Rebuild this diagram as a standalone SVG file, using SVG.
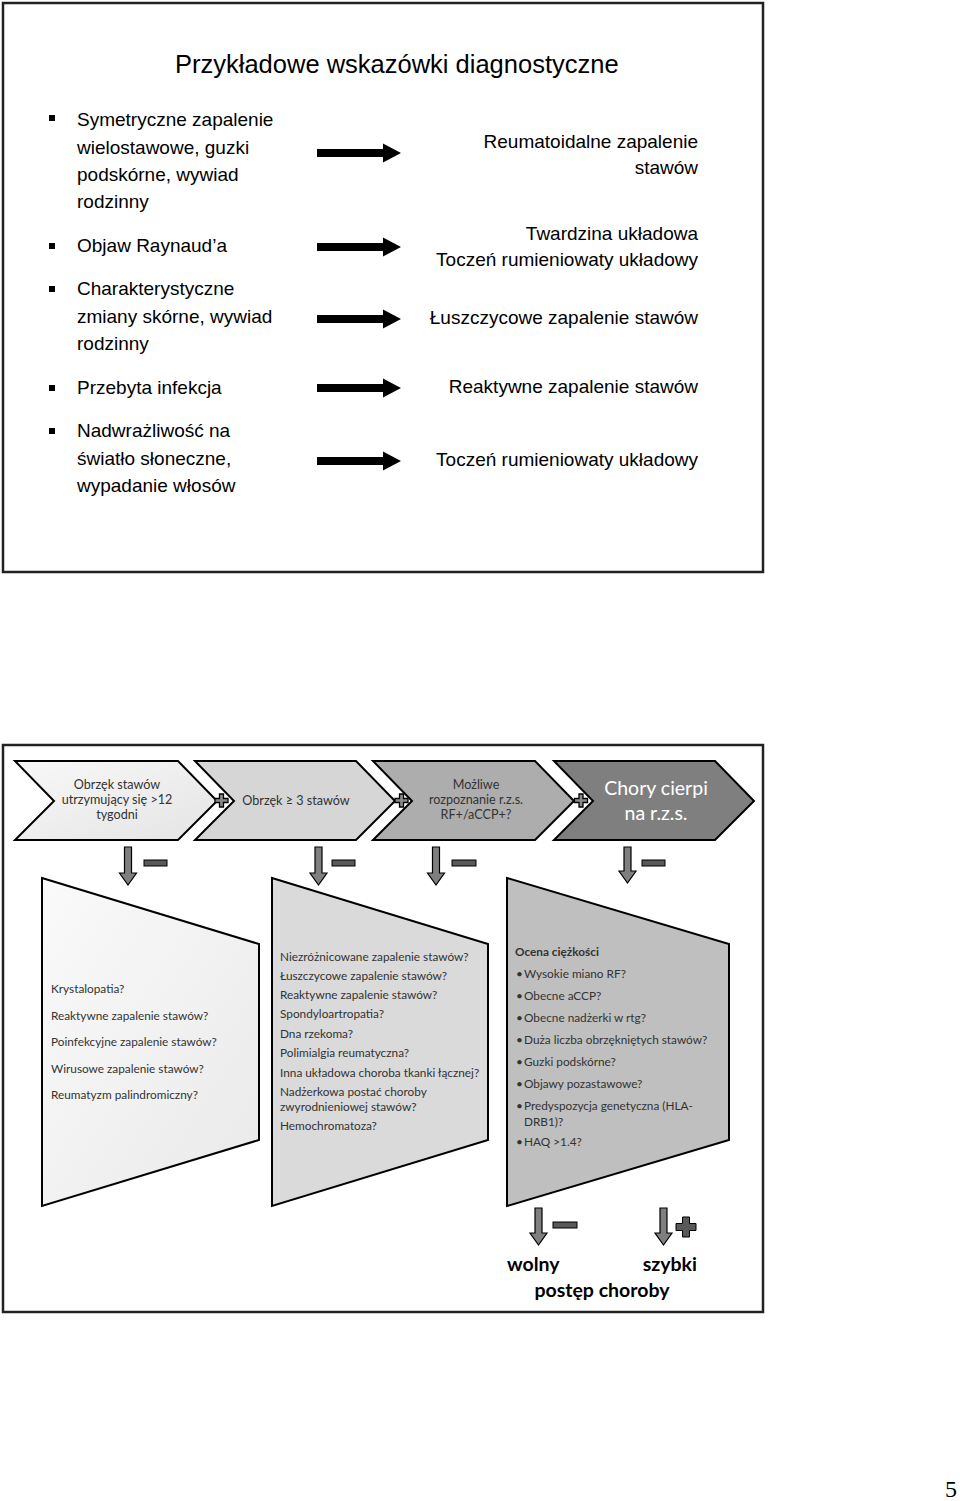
<svg xmlns="http://www.w3.org/2000/svg" width="960" height="1501" viewBox="0 0 960 1501">
<style>
.frame{fill:#fff;stroke:#222;stroke-width:2.5}
.t1{font-family:"Liberation Sans",Arial,sans-serif;font-size:19px;fill:#000}
.title{font-family:"Liberation Sans",Arial,sans-serif;font-size:25.5px;fill:#000}
.bul{fill:#000}
.blk{fill:#000}
.chev{stroke:#000;stroke-width:2}
.ct{font-family:Lato,"Open Sans",sans-serif;font-size:12.6px;fill:#333;text-anchor:middle}
.ct4{font-family:Lato,"Open Sans",sans-serif;font-size:19.5px;fill:#fff;text-anchor:middle}
.pl{fill:#8a8a8a;stroke:#000;stroke-width:1.3}
.ga{fill:#7f7f7f;stroke:#000;stroke-width:1.2}
.mi{fill:#595959;stroke:#000;stroke-width:1}
.pan{stroke:#000;stroke-width:2}
.pt{font-family:Lato,"Open Sans",sans-serif;font-size:11.8px;fill:#333}
.pb{font-family:Lato,"Open Sans",sans-serif;font-size:11.8px;fill:#333;font-weight:bold}
.bt{font-family:Lato,"Open Sans",sans-serif;font-size:19.5px;fill:#000;font-weight:bold}
.pn{font-family:"Liberation Serif","Times New Roman",serif;font-size:24px;fill:#000}
</style>
<defs>
<linearGradient id="g1" x1="0" y1="0" x2="1" y2="1"><stop offset="0" stop-color="#f8f8f8"/><stop offset="1" stop-color="#e4e4e4"/></linearGradient>
<linearGradient id="gp1" x1="0" y1="0" x2="1" y2="1"><stop offset="0" stop-color="#fafafa"/><stop offset="1" stop-color="#e9e9e9"/></linearGradient>
</defs>
<rect width="960" height="1501" fill="#fff"/>

<!-- Top slide -->
<g id="slide1">
<rect class="frame" x="3" y="3" width="760" height="569"/>
<text class="title" x="175" y="73">Przykładowe wskazówki diagnostyczne</text>
</g>

<g id="left-list">
<rect class="bul" x="49" y="115" width="6" height="6"/>
<rect class="bul" x="49" y="243" width="6" height="6"/>
<rect class="bul" x="49" y="286" width="6" height="6"/>
<rect class="bul" x="49" y="385" width="6" height="6"/>
<rect class="bul" x="49" y="428" width="6" height="6"/>
<text class="t1" x="77" y="126">Symetryczne zapalenie</text>
<text class="t1" x="77" y="154">wielostawowe, guzki</text>
<text class="t1" x="77" y="181">podskórne, wywiad</text>
<text class="t1" x="77" y="208">rodzinny</text>
<text class="t1" x="77" y="252">Objaw Raynaud’a</text>
<text class="t1" x="77" y="295">Charakterystyczne</text>
<text class="t1" x="77" y="323">zmiany skórne, wywiad</text>
<text class="t1" x="77" y="350">rodzinny</text>
<text class="t1" x="77" y="394">Przebyta infekcja</text>
<text class="t1" x="77" y="437">Nadwrażliwość na</text>
<text class="t1" x="77" y="465">światło słoneczne,</text>
<text class="t1" x="77" y="492">wypadanie włosów</text>
</g>

<g id="top-arrows">
<path class="blk" d="M317,149 H383 V143.5 L401,153 L383,162.5 V157 H317 Z"/>
<path class="blk" d="M317,243 H383 V237.5 L401,247 L383,256.5 V251 H317 Z"/>
<path class="blk" d="M317,315 H383 V309.5 L401,319 L383,328.5 V323 H317 Z"/>
<path class="blk" d="M317,384 H383 V378.5 L401,388 L383,397.5 V392 H317 Z"/>
<path class="blk" d="M317,457 H383 V451.5 L401,461 L383,470.5 V465 H317 Z"/>
</g>

<g id="right-list">
<text class="t1" x="698" y="148" text-anchor="end">Reumatoidalne zapalenie</text>
<text class="t1" x="698" y="174" text-anchor="end">stawów</text>
<text class="t1" x="698" y="240" text-anchor="end">Twardzina układowa</text>
<text class="t1" x="698" y="266" text-anchor="end">Toczeń rumieniowaty układowy</text>
<text class="t1" x="698" y="324" text-anchor="end">Łuszczycowe zapalenie stawów</text>
<text class="t1" x="698" y="393" text-anchor="end">Reaktywne zapalenie stawów</text>
<text class="t1" x="698" y="466" text-anchor="end">Toczeń rumieniowaty układowy</text>
</g>

<!-- Bottom slide -->
<g id="slide2">
<rect class="frame" x="3" y="745" width="760" height="567"/>
</g>

<g id="chevron1">
<polygon class="chev" fill="url(#g1)" points="15,761 178,761 217,801 178,840 15,840 54,801"/>
<text class="ct" x="117" y="789">Obrzęk stawów</text>
<text class="ct" x="117" y="804">utrzymujący się &gt;12</text>
<text class="ct" x="117" y="819">tygodni</text>
</g>
<g id="chevron2">
<polygon class="chev" fill="#d6d6d6" points="195,761 356,761 395,801 356,840 195,840 234,801"/>
<text class="ct" x="296" y="805">Obrzęk ≥ 3 stawów</text>
</g>
<g id="chevron3">
<polygon class="chev" fill="#adadad" points="373,761 535,761 574,801 535,840 373,840 412,801"/>
<text class="ct" x="476" y="789">Możliwe</text>
<text class="ct" x="476" y="804">rozpoznanie r.z.s.</text>
<text class="ct" x="476" y="819">RF+/aCCP+?</text>
</g>
<g id="chevron4">
<polygon class="chev" fill="#7f7f7f" points="554,761 715,761 754,801 715,840 554,840 593,801"/>
<text class="ct4" x="656" y="795">Chory cierpi</text>
<text class="ct4" x="656" y="820">na r.z.s.</text>
</g>

<g id="connectors">
<path class="pl" d="M219.5,794 h4 v4.5 h4.5 v4 h-4.5 v4.5 h-4 v-4.5 h-4.5 v-4 h4.5 z"/>
<path class="pl" d="M399.5,794 h4 v4.5 h4.5 v4 h-4.5 v4.5 h-4 v-4.5 h-4.5 v-4 h4.5 z"/>
<path class="pl" d="M579,794 h4 v4.5 h4.5 v4 h-4.5 v4.5 h-4 v-4.5 h-4.5 v-4 h4.5 z"/>
<path class="ga" d="M124.5,847 h7 v26 h5 L128,885 L119.5,873 h5 z"/>
<path class="ga" d="M315,847 h7 v26 h5 L318.5,885 L310,873 h5 z"/>
<path class="ga" d="M432.5,847 h7 v26 h5 L436,885 L427.5,873 h5 z"/>
<path class="ga" d="M624,847 h7 v24 h5 L627.5,883 L619,871 h5 z"/>
<rect class="mi" x="144" y="860" width="23" height="6"/>
<rect class="mi" x="332" y="860" width="23" height="6"/>
<rect class="mi" x="452" y="860" width="24" height="6"/>
<rect class="mi" x="642" y="860" width="23" height="6"/>
<path class="ga" d="M535,1208 h7 v25 h5 L538.5,1245 L530,1233 h5 z"/>
<path class="ga" d="M660,1208 h7 v25 h5 L663.5,1245 L655,1233 h5 z"/>
<rect class="mi" x="553" y="1222" width="24" height="6"/>
<path class="mi" d="M682.5,1217 h7 v6.5 h6.5 v7 h-6.5 v6.5 h-7 v-6.5 h-6.5 v-7 h6.5 z"/>
</g>

<g id="panel1">
<polygon class="pan" fill="url(#gp1)" points="42,878 259,944 259,1140 42,1206"/>
<text class="pt" x="51" y="993">Krystalopatia?</text>
<text class="pt" x="51" y="1020">Reaktywne zapalenie stawów?</text>
<text class="pt" x="51" y="1046">Poinfekcyjne zapalenie stawów?</text>
<text class="pt" x="51" y="1073">Wirusowe zapalenie stawów?</text>
<text class="pt" x="51" y="1099">Reumatyzm palindromiczny?</text>
</g>

<g id="panel2">
<polygon class="pan" fill="#dadada" points="272,878 488,944 488,1140 272,1206"/>
<text class="pt" x="280" y="961">Niezróżnicowane zapalenie stawów?</text>
<text class="pt" x="280" y="980">Łuszczycowe zapalenie stawów?</text>
<text class="pt" x="280" y="999">Reaktywne zapalenie stawów?</text>
<text class="pt" x="280" y="1018">Spondyloartropatia?</text>
<text class="pt" x="280" y="1038">Dna rzekoma?</text>
<text class="pt" x="280" y="1057">Polimialgia reumatyczna?</text>
<text class="pt" x="280" y="1077">Inna układowa choroba tkanki łącznej?</text>
<text class="pt" x="280" y="1096">Nadżerkowa postać choroby</text>
<text class="pt" x="280" y="1111">zwyrodnieniowej stawów?</text>
<text class="pt" x="280" y="1130">Hemochromatoza?</text>
</g>

<g id="panel3">
<polygon class="pan" fill="#bfbfbf" points="507,878 729,944 729,1140 507,1206"/>
<text class="pb" x="515" y="956">Ocena ciężkości</text>
<text class="pt" x="516" y="978">•</text><text class="pt" x="524" y="978">Wysokie miano RF?</text>
<text class="pt" x="516" y="1000">•</text><text class="pt" x="524" y="1000">Obecne aCCP?</text>
<text class="pt" x="516" y="1022">•</text><text class="pt" x="524" y="1022">Obecne nadżerki w rtg?</text>
<text class="pt" x="516" y="1044">•</text><text class="pt" x="524" y="1044">Duża liczba obrzękniętych stawów?</text>
<text class="pt" x="516" y="1066">•</text><text class="pt" x="524" y="1066">Guzki podskórne?</text>
<text class="pt" x="516" y="1088">•</text><text class="pt" x="524" y="1088">Objawy pozastawowe?</text>
<text class="pt" x="516" y="1110">•</text><text class="pt" x="524" y="1110">Predyspozycja genetyczna (HLA-</text>
<text class="pt" x="524" y="1126">DRB1)?</text>
<text class="pt" x="516" y="1146">•</text><text class="pt" x="524" y="1146">HAQ &gt;1.4?</text>
</g>

<g id="outcome">
<text class="bt" x="507" y="1271">wolny</text>
<text class="bt" x="697" y="1271" text-anchor="end">szybki</text>
<text class="bt" x="602" y="1297" text-anchor="middle">postęp choroby</text>
</g>

<text class="pn" x="945" y="1497">5</text>
</svg>
